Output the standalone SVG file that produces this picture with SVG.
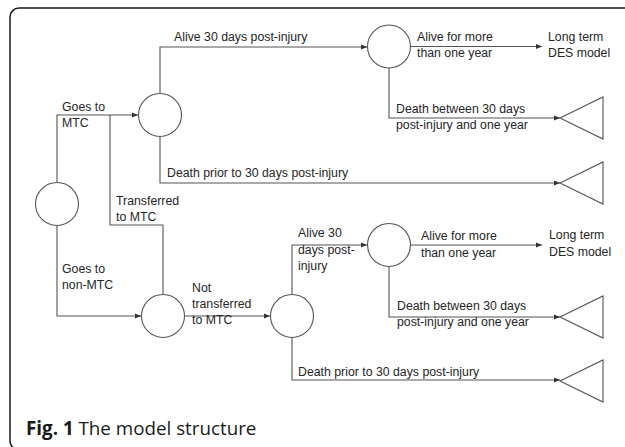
<svg xmlns="http://www.w3.org/2000/svg" width="625" height="447" viewBox="0 0 625 447">
<style>
.frame{fill:#fff;stroke:#1a1a1a;stroke-width:1.5}
.node{fill:#fff;stroke:#555;stroke-width:1.1}
.conn{fill:none;stroke:#555;stroke-width:1.1}
.lbl{font-family:"Liberation Sans",Arial,sans-serif;font-size:12.3px;fill:#262626}
.cap{font-family:"Open Sans","Noto Sans",sans-serif;font-size:18.8px;fill:#1a1a1a}
</style>
<defs>
<marker id="arr" markerUnits="userSpaceOnUse" markerWidth="6" markerHeight="6" refX="6" refY="3" orient="auto">
<path d="M0,0.5 L6,3 L0,5.5 z" fill="#333"/>
</marker>
</defs>
<rect width="625" height="447" fill="#fff"/>
<rect class="frame" x="10" y="8" width="660" height="442" rx="9"/>
<g id="connectors">
<path class="conn" d="M57,182.5 V115 H138" marker-end="url(#arr)"/>
<path class="conn" d="M163,294.5 V225 H110 V115"/>
<path class="conn" d="M57,225.5 V316 H141" marker-end="url(#arr)"/>
<path class="conn" d="M184.5,316 H270" marker-end="url(#arr)"/>
<path class="conn" d="M160,93.5 V47 H367" marker-end="url(#arr)"/>
<path class="conn" d="M160,136.5 V183 H560" marker-end="url(#arr)"/>
<path class="conn" d="M410.5,46.5 H542" marker-end="url(#arr)"/>
<path class="conn" d="M389,68 V118 H560" marker-end="url(#arr)"/>
<path class="conn" d="M292,294.5 V245 H367" marker-end="url(#arr)"/>
<path class="conn" d="M292,337.5 V380 H560" marker-end="url(#arr)"/>
<path class="conn" d="M410.5,245 H542" marker-end="url(#arr)"/>
<path class="conn" d="M389,266.5 V317 H560" marker-end="url(#arr)"/>
</g>
<g id="root"><circle class="node" cx="57" cy="204" r="21.5"/></g>
<g id="mtc"><circle class="node" cx="160" cy="115" r="21.5"/></g>
<g id="nonmtc"><circle class="node" cx="163" cy="316" r="21.5"/></g>
<g id="notransfer"><circle class="node" cx="292" cy="316" r="21.5"/></g>
<g id="alive1"><circle class="node" cx="389" cy="46.5" r="21.5"/></g>
<g id="alive2"><circle class="node" cx="389" cy="245" r="21.5"/></g>
<g id="death1"><polygon class="node" points="560,118 603,97 603,139"/></g>
<g id="death2"><polygon class="node" points="560,183 603,162 603,204"/></g>
<g id="death3"><polygon class="node" points="560,317 603,296 603,338"/></g>
<g id="death4"><polygon class="node" points="560,381 603,360 603,402"/></g>
<g id="longterm1"><text class="lbl" x="548" y="41">Long term</text><text class="lbl" x="548" y="57">DES model</text></g>
<g id="longterm2"><text class="lbl" x="549" y="239">Long term</text><text class="lbl" x="549" y="256">DES model</text></g>
<g id="labels">
<text class="lbl" x="62" y="111">Goes to</text>
<text class="lbl" x="62" y="127">MTC</text>
<text class="lbl" x="116" y="205">Transferred</text>
<text class="lbl" x="116" y="221">to MTC</text>
<text class="lbl" x="62" y="273">Goes to</text>
<text class="lbl" x="62" y="289">non-MTC</text>
<text class="lbl" x="192" y="292">Not</text>
<text class="lbl" x="192" y="308">transferred</text>
<text class="lbl" x="192" y="324">to MTC</text>
<text class="lbl" x="174" y="41">Alive 30 days post-injury</text>
<text class="lbl" x="167" y="177">Death prior to 30 days post-injury</text>
<text class="lbl" x="417" y="41">Alive for more</text>
<text class="lbl" x="417" y="57">than one year</text>
<text class="lbl" x="396" y="113">Death between 30 days</text>
<text class="lbl" x="396" y="129">post-injury and one year</text>
<text class="lbl" x="298" y="237">Alive 30</text>
<text class="lbl" x="298" y="254">days post-</text>
<text class="lbl" x="298" y="270">injury</text>
<text class="lbl" x="421" y="240">Alive for more</text>
<text class="lbl" x="421" y="257">than one year</text>
<text class="lbl" x="397" y="310">Death between 30 days</text>
<text class="lbl" x="397" y="326">post-injury and one year</text>
<text class="lbl" x="298" y="376">Death prior to 30 days post-injury</text>
</g>
<text class="cap" x="26" y="435"><tspan font-weight="bold">Fig. 1</tspan> The model structure</text>
</svg>
